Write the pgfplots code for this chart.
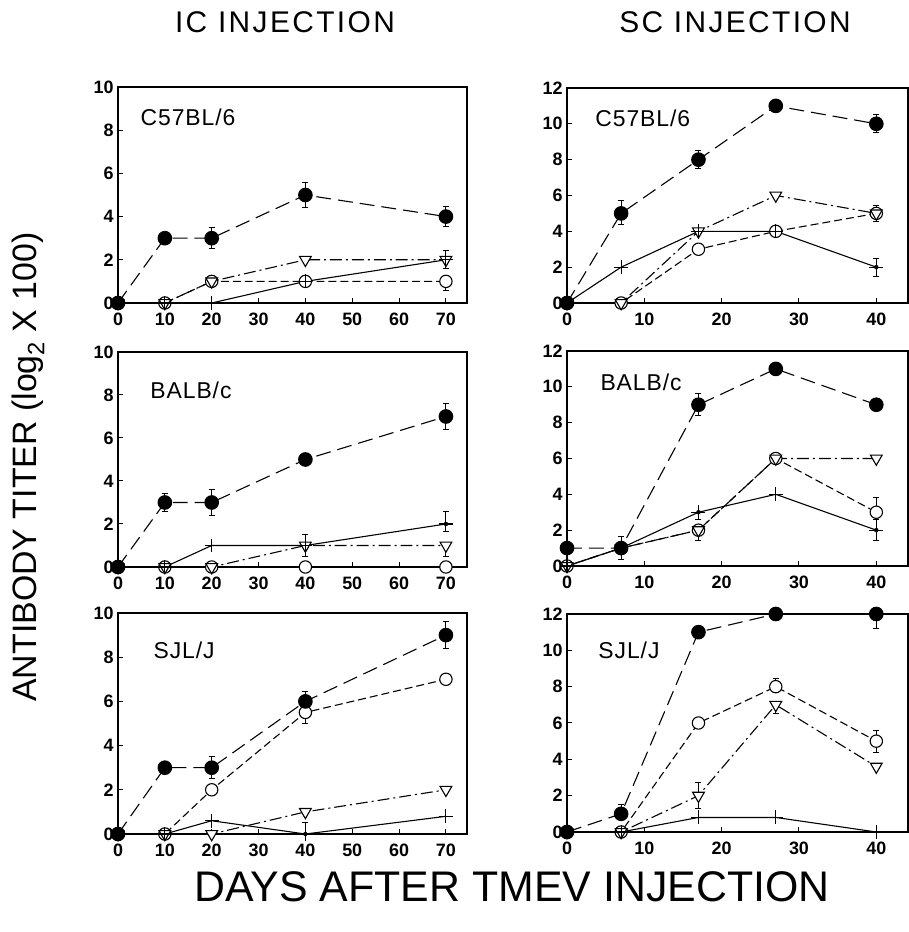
\documentclass[border=0pt]{standalone}
\usepackage{fontspec}
\setmainfont{Liberation Sans}
\usepackage{pgfplots}
\pgfplotsset{compat=1.18}

\pgfplotsset{
  panel/.style={
    scale only axis, anchor=south west, clip=false,
    axis line style={line width=1.3pt},
    tick align=inside, xtick pos=bottom, ytick pos=left,
    major tick length=5pt, tick style={line width=1pt, black},
    xmin=0, ymin=0,
    tick label style={font=\fontsize{18}{18}\selectfont\bfseries},
    xticklabel style={yshift=-6pt},
    yticklabel style={xshift=-1pt},
    /pgf/number format/assume math mode=true,
    xtick distance=10, ytick distance=2,
  },
  lpanel/.style={panel, width=349bp, xmax=74.5, ymax=10},
  rpanel/.style={panel, width=341bp, xmax=44.1, ymax=12},
  fc/.style={black, line width=1.1pt, dash pattern=on 15pt off 7pt,
    mark=*, mark size=6.8pt, mark options={solid}},
  oc/.style={black, line width=1.1pt, dash pattern=on 8pt off 4pt,
    mark=*, mark size=6.2pt, mark options={solid, fill=white}},
  tri/.style={black, line width=1.1pt, dash pattern=on 12pt off 4pt on 2pt off 4pt,
    mark=triangle*, mark size=6.8pt, mark options={solid, fill=white, rotate=180}},
  pl/.style={black, line width=1.1pt, solid, mark=+, mark size=7pt},
  eb/.style={only marks, mark=none, forget plot,
    error bars/.cd, y dir=both, y explicit,
    error bar style={black, solid, line width=1pt},
    error mark options={rotate=90, mark size=3pt, line width=1pt, black}},
}
\tikzset{lab/.style={anchor=west, font=\fontsize{23}{23}\selectfont\addfontfeature{LetterSpace=4}}}

\begin{document}
\begin{tikzpicture}
\useasboundingbox (0,0) rectangle (909bp,932bp);

\node[font=\fontsize{30}{30}\selectfont\addfontfeature{LetterSpace=8}] at (285bp,910bp) {IC INJECTION};
\node[font=\fontsize{30}{30}\selectfont\addfontfeature{LetterSpace=8}] at (735bp,910bp) {SC INJECTION};
\node[font=\fontsize{34}{34}\selectfont, rotate=90] at (28bp,465bp) {ANTIBODY TITER (log\textsubscript{2} X 100)};
\node[font=\fontsize{43}{43}\selectfont] at (512bp,45bp) {DAYS AFTER TMEV INJECTION};

% IC, C57BL/6
\begin{axis}[lpanel, at={(118bp,629bp)}, height=216bp]
\addplot[eb] table[x=x, y=y, y error plus=ep, y error minus=em, row sep=\\] {
x y ep em \\ 20 3 0.5 0.5 \\ 40 5 0.6 0.6 \\ 70 4 0.45 0.45 \\ 70 2 0.45 0.4 \\ 70 1 0 0.4 \\};
\addplot[oc] coordinates {(0,0) (10,0) (20,1) (40,1) (70,1)};
\addplot[tri] coordinates {(0,0) (10,0) (20,1) (40,2) (70,2)};
\addplot[pl] coordinates {(0,0) (10,0) (20,0) (40,1) (70,2)};
\addplot[fc] coordinates {(0,0) (10,3) (20,3) (40,5) (70,4)};
\node[lab] at (rel axis cs:0.055,0.86) {C57BL/6};
\end{axis}

% SC, C57BL/6
\begin{axis}[rpanel, at={(567bp,629bp)}, height=215bp]
\addplot[eb] table[x=x, y=y, y error plus=ep, y error minus=em, row sep=\\] {
x y ep em \\ 7 5 0.7 0.6 \\ 17 8 0.5 0.5 \\ 40 10 0.5 0.5 \\ 40 5 0.45 0.45 \\ 40 2 0.5 0.5 \\};
\addplot[oc] coordinates {(0,0) (7,0) (17,3) (27,4) (40,5)};
\addplot[tri] coordinates {(0,0) (7,0) (17,4) (27,6) (40,5)};
\addplot[pl] coordinates {(0,0) (7,2) (17,4) (27,4) (40,2)};
\addplot[fc] coordinates {(0,0) (7,5) (17,8) (27,11) (40,10)};
\node[lab] at (rel axis cs:0.073,0.86) {C57BL/6};
\end{axis}

% IC, BALB/c
\begin{axis}[lpanel, at={(118bp,365bp)}, height=215bp]
\addplot[eb] table[x=x, y=y, y error plus=ep, y error minus=em, row sep=\\] {
x y ep em \\ 10 3 0.4 0.4 \\ 20 3 0.6 0.6 \\ 70 7 0.6 0.6 \\ 70 2 0.6 0.35 \\ 40 1 0.5 0.5 \\ 70 1 0 0.5 \\};
\addplot[oc] coordinates {(0,0) (10,0) (20,0) (40,0) (70,0)};
\addplot[tri] coordinates {(0,0) (10,0) (20,0) (40,1) (70,1)};
\addplot[pl] coordinates {(0,0) (10,0) (20,1) (40,1) (70,2)};
\addplot[fc] coordinates {(0,0) (10,3) (20,3) (40,5) (70,7)};
\node[lab] at (rel axis cs:0.083,0.82) {BALB/c};
\end{axis}

% SC, BALB/c
\begin{axis}[rpanel, at={(567bp,366bp)}, height=215bp]
\addplot[eb] table[x=x, y=y, y error plus=ep, y error minus=em, row sep=\\] {
x y ep em \\ 7 1 0.65 0.65 \\ 17 9 0.6 0.6 \\ 17 2 0 0.6 \\ 40 3 0.8 0 \\ 17 3 0 0.4 \\ 40 2 0.6 0.6 \\};
\addplot[oc] coordinates {(0,0) (7,1) (17,2) (27,6) (40,3)};
\addplot[tri] coordinates {(0,0) (7,1) (17,2) (27,6) (40,6)};
\addplot[pl] coordinates {(0,0) (7,1) (17,3) (27,4) (40,2)};
\addplot[fc] coordinates {(0,1) (7,1) (17,9) (27,11) (40,9)};
\node[lab] at (rel axis cs:0.088,0.856) {BALB/c};
\end{axis}

% IC, SJL/J
\begin{axis}[lpanel, at={(118bp,98bp)}, height=221bp]
\addplot[eb] table[x=x, y=y, y error plus=ep, y error minus=em, row sep=\\] {
x y ep em \\ 20 3 0.5 0.5 \\ 40 6 0.45 0 \\ 70 9 0.6 0.6 \\ 40 5.5 0 0.5 \\ 40 0 0.5 0 \\};
\addplot[oc] coordinates {(0,0) (10,0) (20,2) (40,5.5) (70,7)};
\addplot[tri] coordinates {(0,0) (10,0) (20,0) (40,1) (70,2)};
\addplot[pl] coordinates {(0,0) (10,0) (20,0.6) (40,0) (70,0.8)};
\addplot[fc] coordinates {(0,0) (10,3) (20,3) (40,6) (70,9)};
\node[lab] at (rel axis cs:0.092,0.83) {SJL/J};
\end{axis}

% SC, SJL/J
\begin{axis}[rpanel, at={(567bp,100bp)}, height=218bp]
\addplot[eb] table[x=x, y=y, y error plus=ep, y error minus=em, row sep=\\] {
x y ep em \\ 7 1 0.5 0 \\ 40 12 0 0.8 \\ 27 8 0.45 0 \\ 40 5 0.6 0.6 \\ 17 2 0.7 0.7 \\ 27 7 0 0.5 \\};
\addplot[oc] coordinates {(0,0) (7,0) (17,6) (27,8) (40,5)};
\addplot[tri] coordinates {(0,0) (7,0) (17,2) (27,7) (40,3.6)};
\addplot[pl] coordinates {(0,0) (7,0) (17,0.8) (27,0.8) (40,0)};
\addplot[fc] coordinates {(0,0) (7,1) (17,11) (27,12) (40,12)};
\node[lab] at (rel axis cs:0.082,0.835) {SJL/J};
\end{axis}
\end{tikzpicture}
\end{document}
